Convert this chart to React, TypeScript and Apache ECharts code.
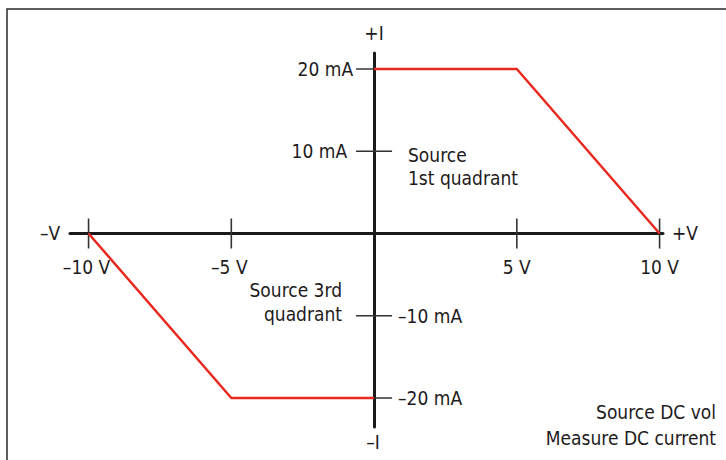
import React, { useEffect, useRef } from "react";
import * as echarts from "echarts";

// Source/measure boundary (V, mA)
const quadrant1Volts = [0, 5, 10];
const quadrant1Current = [20, 20, 0];
const quadrant3Volts = [-10, -5, 0];
const quadrant3Current = [0, -20, -20];

// Tick positions and labels
const voltTicks = [-10, -5, 5, 10];
const voltTickLabels = ["–10 V", "–5 V", "5 V", "10 V"];
const currentTicks = [20, 10, -10, -20];
const currentTickLabels = ["20 mA", "10 mA", "–10 mA", "–20 mA"];

const FONT_FAMILY = '"DejaVu Sans Condensed", "Liberation Sans Narrow", sans-serif';
const FONT_SIZE = 19;
const FONT = `${FONT_SIZE}px ${FONT_FAMILY}`;
const TEXT_COLOR = "#1e1b1c";

export default function App() {
  const ref = useRef<HTMLDivElement>(null);

  useEffect(() => {
    if (!ref.current) return;
    const chart = echarts.init(ref.current, undefined, { renderer: "svg" });

    const redLine = "#e8291f";

    const xTickData = voltTicks.map((v, i) => ({
      value: [v, 0],
      label: {
        show: true,
        formatter: voltTickLabels[i],
        position: "inside",
        offset: [v < 0 ? -2 : 0, 33],
        fontSize: FONT_SIZE,
        fontFamily: FONT_FAMILY,
        color: TEXT_COLOR,
        opacity: 1,
        textBorderWidth: 0,
      },
    }));

    const yTickData = currentTicks.map((c, i) => ({
      value: [0, c],
      label: {
        show: true,
        formatter: currentTickLabels[i],
        position: "inside",
        align: c > 0 ? "right" : "left",
        offset: [c > 0 ? (c === 20 ? -21 : -27) : 24, 0],
        fontSize: FONT_SIZE,
        fontFamily: FONT_FAMILY,
        color: TEXT_COLOR,
        opacity: 1,
        textBorderWidth: 0,
      },
    }));

    const txt = (
      text: string,
      x: number,
      y: number,
      align: "left" | "center" | "right"
    ) => ({
      type: "text",
      x,
      y,
      z: 10,
      silent: true,
      style: {
        text,
        font: FONT,
        fill: TEXT_COLOR,
        textAlign: align,
        textVerticalAlign: "middle",
      },
    });

    chart.setOption({
      animation: false,
      backgroundColor: "#ffffff",
      grid: { left: 70, right: 63, top: 53, bottom: 33 },
      xAxis: {
        type: "value",
        min: -10.65,
        max: 10.12,
        axisLine: { show: true, onZero: true, lineStyle: { color: "#1a1a1a", width: 3 } },
        axisTick: { show: false },
        axisLabel: { show: false },
        splitLine: { show: false },
      },
      yAxis: {
        type: "value",
        min: -23.53,
        max: 21.95,
        axisLine: { show: true, onZero: true, lineStyle: { color: "#1a1a1a", width: 3 } },
        axisTick: { show: false },
        axisLabel: { show: false },
        splitLine: { show: false },
      },
      graphic: [
        {
          type: "rect",
          z: -10,
          silent: true,
          shape: { x: 7, y: 9, width: 800, height: 600 },
          style: { fill: "transparent", stroke: "#2a2a2a", lineWidth: 1.5 },
        },
        txt("+I", 374, 33, "center"),
        txt("–I", 373, 442, "center"),
        txt("–V", 50, 233, "center"),
        txt("+V", 685, 233, "center"),
        txt("Source", 408, 155, "left"),
        txt("1st quadrant", 408, 178, "left"),
        txt("Source 3rd", 342, 290, "right"),
        txt("quadrant", 342, 314, "right"),
        txt("Source DC vol", 716, 412, "right"),
        txt("Measure DC current", 716, 438, "right"),
      ],
      series: [
        {
          type: "scatter",
          silent: true,
          symbol: "rect",
          symbolSize: [1.6, 30],
          itemStyle: { color: "#333333", opacity: 1 },
          data: xTickData,
          z: 1,
        },
        {
          type: "scatter",
          silent: true,
          symbol: "rect",
          symbolSize: [36, 1.6],
          itemStyle: { color: "#333333", opacity: 1 },
          data: yTickData,
          z: 1,
        },
        {
          type: "line",
          silent: true,
          symbol: "none",
          lineStyle: { color: redLine, width: 2.5 },
          data: quadrant1Volts.map((v, i) => [v, quadrant1Current[i]]),
          z: 3,
        },
        {
          type: "line",
          silent: true,
          symbol: "none",
          lineStyle: { color: redLine, width: 2.5 },
          data: quadrant3Volts.map((v, i) => [v, quadrant3Current[i]]),
          z: 3,
        },
      ],
    });

    return () => chart.dispose();
  }, []);

  return (
    <div
      ref={ref}
      style={{ position: "absolute", left: 0, top: 0, width: 726, height: 460 }}
    />
  );
}
